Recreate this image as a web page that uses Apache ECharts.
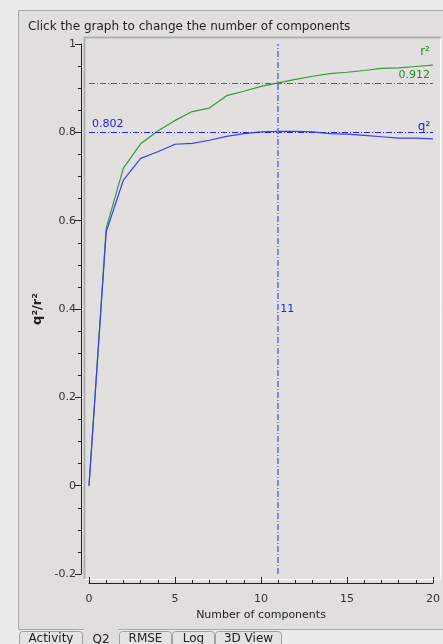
<!DOCTYPE html>
<html lang="en">
<head>
    <meta charset="UTF-8">
    <title>q2 / r2</title>
    <script src="https://cdn.jsdelivr.net/npm/echarts@6/dist/echarts.min.js"></script>
    <style>
        html, body { margin: 0; padding: 0; background: #ececec; }
        #main { width: 443px; height: 644px; }
    </style>
</head>
<body>
    <div id="main"></div>
</body>
<script>
    // number of components 0..20
    var components = [0, 1, 2, 3, 4, 5, 6, 7, 8, 9, 10, 11, 12, 13, 14, 15, 16, 17, 18, 19, 20];
    var r2 = [0, 0.583, 0.719, 0.774, 0.803, 0.827, 0.847, 0.855, 0.883, 0.893, 0.904, 0.912,
              0.920, 0.927, 0.933, 0.936, 0.940, 0.945, 0.946, 0.949, 0.952];
    var q2 = [0, 0.575, 0.692, 0.741, 0.756, 0.773, 0.775, 0.782, 0.791, 0.797, 0.801, 0.802,
              0.802, 0.801, 0.797, 0.796, 0.793, 0.790, 0.787, 0.787, 0.785];
    var chosen = 11;
    var r2Chosen = 0.912;
    var q2Chosen = 0.802;
    var tabs = ['Activity', 'Q2', 'RMSE', 'Log', '3D View'];

    var font = 'DejaVu Sans';
    var green = '#3a983a';
    var blue = '#3c3cf8';

    function pairs(ys) {
        return components.map(function (x, i) { return [x, ys[i]]; });
    }

    // tab strip at the bottom
    var tabX = [19, 83, 119, 172, 215, 282];
    var tabGraphics = [];
    tabs.forEach(function (t, i) {
        var sel = t === 'Q2';
        tabGraphics.push({
            type: 'rect', z: 1,
            shape: { x: tabX[i] + 0.5, y: sel ? 628.5 : 631.5, width: tabX[i + 1] - tabX[i] - 1, height: 20, r: [3, 3, 0, 0] },
            style: { fill: sel ? '#e0dfde' : '#e3e3e2', stroke: sel ? '#e0dfde' : '#a0a0a0', lineWidth: 1 }
        });
        tabGraphics.push({
            type: 'text', z: 2,
            x: (tabX[i] + tabX[i + 1]) / 2, y: sel ? 640 : 639,
            style: { text: t, font: '12px "' + font + '"', fill: '#222', align: 'center', verticalAlign: 'middle' }
        });
    });

    var chart = echarts.init(document.getElementById('main'));
    chart.setOption({
        backgroundColor: '#ececec',
        animation: false,
        graphic: [
            // panel
            { type: 'rect', z: -10, shape: { x: 18.5, y: 10.5, width: 430, height: 619 },
              style: { fill: '#e0dfde', stroke: '#a6a6a6', lineWidth: 1 } },
            // plot area bevel
            { type: 'rect', z: -9, shape: { x: 84.5, y: 37.5, width: 356, height: 542 },
              style: { fill: '#e1e0df', stroke: '#ffffff', lineWidth: 1 } },
            { type: 'polyline', z: -8, shape: { points: [[84.5, 579], [84.5, 37.5], [441, 37.5]] },
              style: { stroke: '#b0b0b0', lineWidth: 2, fill: null } },
            { type: 'text', x: 28, y: 27,
              style: { text: 'Click the graph to change the number of components', font: '12px "' + font + '"',
                       fill: '#1e1e1e', verticalAlign: 'middle' } }
        ].concat(tabGraphics),
        grid: { left: 89, right: 6, top: 44, bottom: 70, containLabel: false },
        xAxis: {
            type: 'value', min: 0, max: 20, interval: 5,
            offset: 9,
            name: 'Number of components', nameLocation: 'middle', nameGap: 25,
            nameTextStyle: { fontFamily: font, fontSize: 11, color: '#222' },
            axisLine: { onZero: false, lineStyle: { color: '#222', width: 1 } },
            axisTick: { inside: true, length: 6, lineStyle: { color: '#222' } },
            minorTick: { show: true, splitNumber: 5, length: 3, lineStyle: { color: '#222' } },
            axisLabel: { fontFamily: font, fontSize: 11, color: '#333', margin: 11 },
            splitLine: { show: false }
        },
        yAxis: {
            type: 'value', min: -0.2, max: 1, interval: 0.2,
            offset: 8,
            name: 'q²/r²', nameLocation: 'middle', nameGap: 30, nameRotate: 90,
            nameTextStyle: { fontFamily: font, fontSize: 13, fontWeight: 'bold', color: '#222' },
            axisLine: { show: true, onZero: false, lineStyle: { color: '#222', width: 1 } },
            axisTick: { length: 6, lineStyle: { color: '#222' } },
            minorTick: { show: true, splitNumber: 4, length: 3, lineStyle: { color: '#222' } },
            axisLabel: { fontFamily: font, fontSize: 11, color: '#333', margin: 5 },
            splitLine: { show: false }
        },
        series: [{
            name: 'r²', type: 'line', data: pairs(r2),
            showSymbol: false, symbol: 'none',
            lineStyle: { color: green, width: 1.2 },
            markLine: {
                silent: true, symbol: 'none',
                lineStyle: { color: '#2a8a2a', width: 1, type: [6, 2, 1, 2] },
                label: { position: 'insideEndTop', formatter: '{b}', fontFamily: font, fontSize: 11, color: '#2a8a2a', distance: 3 },
                data: [{ yAxis: r2Chosen, name: r2Chosen.toFixed(3) }]
            },
            markPoint: {
                silent: true, symbol: 'circle', symbolSize: 0,
                label: { show: true, formatter: 'r²', position: 'top', offset: [-8, -2],
                         fontFamily: font, fontSize: 12, color: '#2a8a2a' },
                data: [{ coord: [components[20], r2[20]] }]
            }
        }, {
            name: 'q²', type: 'line', data: pairs(q2),
            showSymbol: false, symbol: 'none',
            lineStyle: { color: blue, width: 1.2 },
            markLine: {
                silent: true, symbol: 'none',
                lineStyle: { color: '#2525f0', width: 1, type: [6, 2, 1, 2] },
                label: { position: 'insideStartTop', formatter: '{b}', fontFamily: font, fontSize: 11, color: '#2020f0', distance: 3 },
                data: [{ yAxis: q2Chosen, name: q2Chosen.toFixed(3) }]
            },
            markPoint: {
                silent: true, symbol: 'circle', symbolSize: 0,
                label: { show: true, formatter: 'q²', position: 'top', offset: [-9, -1],
                         fontFamily: font, fontSize: 12, color: '#2020f0' },
                data: [{ coord: [components[20], q2[20]] }]
            }
        }, {
            name: 'chosen', type: 'line', data: [],
            markLine: {
                silent: true, symbol: 'none',
                lineStyle: { color: '#6f6ff8', width: 1.6, type: [6, 2, 1, 2] },
                label: { show: false },
                data: [{ xAxis: chosen }]
            },
            markPoint: {
                silent: true, symbol: 'circle', symbolSize: 0,
                label: { show: true, formatter: String(chosen), position: 'right', distance: 2,
                         fontFamily: font, fontSize: 11, color: '#2020f0' },
                data: [{ coord: [chosen, 0.4] }]
            }
        }]
    });
</script>
</html>
